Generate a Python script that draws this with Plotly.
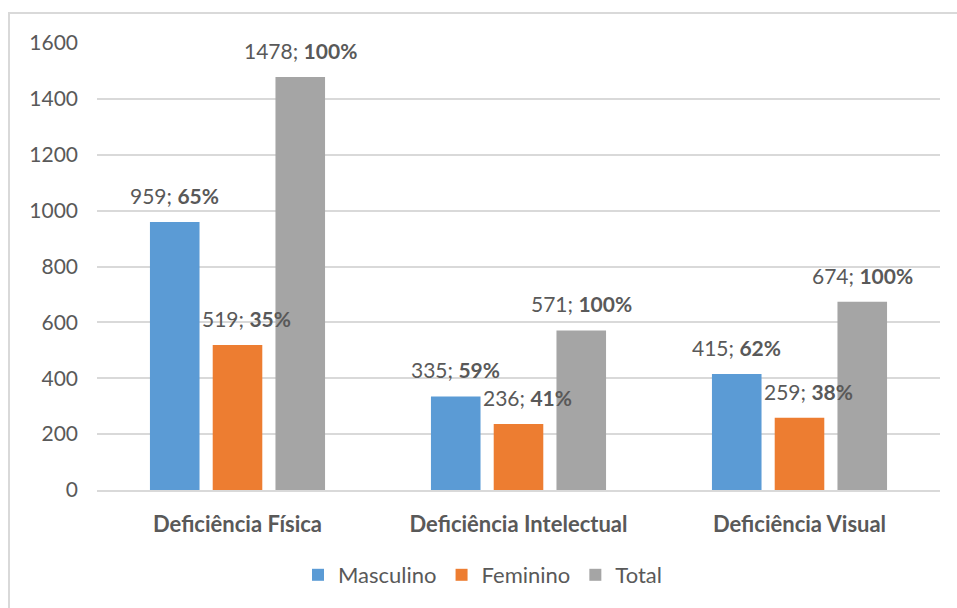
import plotly.graph_objects as go

# Data
categories = ["Deficiência Física", "Deficiência Intelectual", "Deficiência Visual"]
series_names = ["Masculino", "Feminino", "Total"]
masculino = [959, 335, 415]
feminino = [519, 236, 259]
total = [1478, 571, 674]
pct_masculino = [65, 59, 62]
pct_feminino = [35, 41, 38]
pct_total = [100, 100, 100]
y_ticks = [0, 200, 400, 600, 800, 1000, 1200, 1400, 1600]

values = [masculino, feminino, total]
percents = [pct_masculino, pct_feminino, pct_total]
colors = ["#5B9BD5", "#ED7D31", "#A5A5A5"]

FONT = "Lato"
TEXT_COLOR = "#595959"
GRID_COLOR = "#D9D9D9"

BARGAP = 0.33
BARGROUPGAP = 0.21
n_series = len(series_names)
slot = (1 - BARGAP) / n_series

fig = go.Figure()
for name, vals, col in zip(series_names, values, colors):
    fig.add_trace(go.Bar(
        name=name, x=categories, y=vals,
        marker=dict(color=col, line=dict(width=0)),
    ))

# Data labels "value; pct%" above each bar
label_xshift = [0, 9, 0]
annotations = []
for si, (vals, pcts) in enumerate(zip(values, percents)):
    for ci, (v, p) in enumerate(zip(vals, pcts)):
        annotations.append(dict(
            x=ci + (si - (n_series - 1) / 2) * slot,
            y=v, xref="x", yref="y",
            text=f"{v}; <b>{p}%</b>",
            showarrow=False, xanchor="center", yanchor="bottom",
            xshift=label_xshift[si], yshift=12,
            font=dict(family=FONT, size=21, color=TEXT_COLOR),
        ))

fig.update_layout(
    width=957, height=608,
    margin=dict(l=97, r=17, t=43, b=118),
    paper_bgcolor="white", plot_bgcolor="white",
    barmode="group", bargap=BARGAP, bargroupgap=BARGROUPGAP,
    font=dict(family=FONT, color=TEXT_COLOR),
    annotations=annotations,
    showlegend=True,
    legend=dict(
        orientation="h", x=(298 - 97) / 843, xanchor="left",
        y=(490 - 575) / 447, yanchor="middle",
        font=dict(family=FONT, size=22, color=TEXT_COLOR),
        itemwidth=30, traceorder="normal",
        bgcolor="rgba(0,0,0,0)",
    ),
    shapes=[dict(
        type="rect", xref="paper", yref="paper",
        x0=(9 - 97) / 843, x1=(980 - 97) / 843,
        y0=(490 - 640) / 447, y1=(490 - 13) / 447,
        line=dict(color=GRID_COLOR, width=2), fillcolor="rgba(0,0,0,0)",
        layer="below",
    )],
)

fig.update_xaxes(
    type="category", showgrid=False, ticks="",
    showline=True, linecolor=GRID_COLOR, linewidth=2,
    tickfont=dict(family=FONT, size=22, color=TEXT_COLOR, weight="bold"),
    ticklabelstandoff=14,
)
fig.update_yaxes(
    range=[0, 1600], tickvals=y_ticks, ticktext=[str(t) for t in y_ticks],
    showgrid=True, gridcolor=GRID_COLOR, gridwidth=2,
    zeroline=False, showline=False, ticks="",
    tickfont=dict(family=FONT, size=21, color=TEXT_COLOR),
    ticklabelstandoff=18,
)

fig.write_html("out.html")
